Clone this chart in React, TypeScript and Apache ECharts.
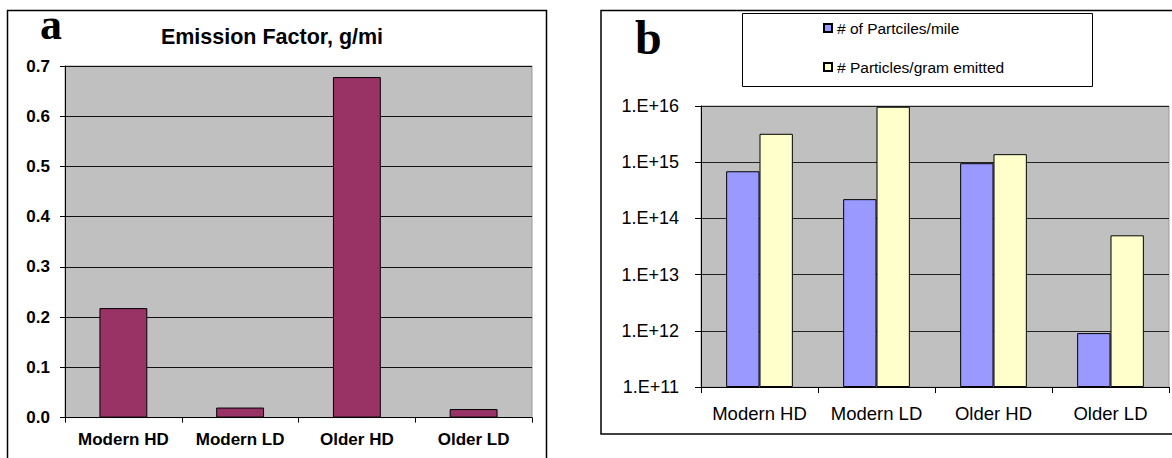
import React, { useEffect, useRef } from "react";
import * as echarts from "echarts";

const categories = ["Modern HD", "Modern LD", "Older HD", "Older LD"];
const emissionFactor = [0.218, 0.02, 0.678, 0.017];
const particlesPerMile = [6.9e14, 2.2e14, 9.6e14, 9.1e11];
const particlesPerGram = [3.2e15, 9.7e15, 1.39e15, 5.0e13];
const aTicks = [0, 0.1, 0.2, 0.3, 0.4, 0.5, 0.6, 0.7];
const seriesNames = ["# of Partciles/mile", "# Particles/gram emitted"];
const titleA = "Emission Factor, g/mi";

export default function App() {
  const ref = useRef<HTMLDivElement>(null);
  useEffect(() => {
    document.body.style.margin = "0";
    const chart = echarts.init(ref.current!, null, { renderer: "svg" });
    const sans = "Liberation Sans";
    chart.setOption({
      animation: false,
      backgroundColor: "#ffffff",
      legend: {
        data: seriesNames,
        orient: "vertical",
        left: 818,
        top: 15,
        icon: "rect",
        itemWidth: 8,
        itemHeight: 8,
        itemGap: 23,
        textStyle: { fontFamily: sans, fontSize: 15.5, color: "#000", padding: [0, 0, 0, 0] },
      },
      grid: [
        {
          left: 65, right: 640, top: 66, bottom: 40.4,
          show: true, backgroundColor: "#c0c0c0", borderColor: "#9a9a9a", borderWidth: 1,
        },
        {
          left: 701, right: 3, top: 106, bottom: 71,
          show: true, backgroundColor: "#c0c0c0", borderColor: "#9a9a9a", borderWidth: 1,
        },
      ],
      xAxis: [
        {
          type: "category", gridIndex: 0, data: categories,
          axisLine: { show: true, lineStyle: { color: "#000", width: 1 } },
          axisTick: { show: true, interval: 0, length: 5, lineStyle: { color: "#000", width: 1 } },
          axisLabel: { interval: 0, fontFamily: sans, fontWeight: "bold", fontSize: 17, color: "#000", margin: 13 },
        },
        {
          type: "category", gridIndex: 1, data: categories,
          axisLine: { show: true, lineStyle: { color: "#000", width: 1 } },
          axisTick: { show: true, interval: 0, length: 6, lineStyle: { color: "#000", width: 1 } },
          axisLabel: { interval: 0, fontFamily: sans, fontSize: 18.5, color: "#000", margin: 17 },
        },
      ],
      yAxis: [
        {
          type: "value", gridIndex: 0, min: aTicks[0], max: aTicks[aTicks.length - 1], interval: 0.1,
          axisLine: { show: true, lineStyle: { color: "#000", width: 1 } },
          axisTick: { show: true, length: 5, lineStyle: { color: "#000" } },
          splitLine: { show: true, lineStyle: { color: "#111", width: 1 } },
          axisLabel: {
            fontFamily: sans, fontWeight: "bold", fontSize: 17, color: "#000", margin: 15,
            formatter: (v: number) => v.toFixed(1),
          },
        },
        {
          type: "log", gridIndex: 1, logBase: 10, min: 1e11, max: 1e16, startValue: 1e11,
          axisLine: { show: true, lineStyle: { color: "#000", width: 1 } },
          axisTick: { show: true, length: 6, lineStyle: { color: "#000" } },
          splitLine: { show: true, lineStyle: { color: "#222", width: 1 } },
          minorTick: { show: false },
          axisLabel: {
            fontFamily: sans, fontSize: 18, color: "#000", margin: 22,
            formatter: (v: number) => "1.E+" + Math.round(Math.log10(v)),
          },
        },
      ],
      series: [
        {
          type: "bar", xAxisIndex: 0, yAxisIndex: 0, data: emissionFactor, barWidth: "41%",
          itemStyle: { color: "#993366", borderColor: "#000", borderWidth: 1 },
        },
        {
          name: seriesNames[0], type: "bar", xAxisIndex: 1, yAxisIndex: 1, data: particlesPerMile,
          barGap: "0%", barCategoryGap: "43%", clip: true,
          itemStyle: { color: "#9999ff", borderColor: "#000", borderWidth: 1 },
        },
        {
          name: seriesNames[1], type: "bar", xAxisIndex: 1, yAxisIndex: 1, data: particlesPerGram,
          barGap: "0%", barCategoryGap: "43%", clip: true,
          itemStyle: { color: "#ffffcc", borderColor: "#000", borderWidth: 1 },
        },
      ],
      graphic: [
        {
          type: "rect", z: -10, silent: true,
          shape: { x: 7.5, y: 10.5, width: 539, height: 470 },
          style: { fill: "none", stroke: "#000", lineWidth: 1.5 },
        },
        {
          type: "rect", z: -10, silent: true,
          shape: { x: 601, y: 10.5, width: 600, height: 423.5 },
          style: { fill: "none", stroke: "#000", lineWidth: 1.5 },
        },
        {
          type: "rect", z: -10, silent: true,
          shape: { x: 742.5, y: 13.5, width: 350, height: 73 },
          style: { fill: "#fff", stroke: "#000", lineWidth: 1 },
        },
        {
          type: "text", silent: true,
          style: {
            text: titleA, x: 272, y: 37, font: 'bold 21.5px "Liberation Sans"',
            fill: "#000", textAlign: "center", textVerticalAlign: "middle",
          },
        },
        {
          type: "text", silent: true,
          style: {
            text: "a", x: 40, y: 24, font: 'bold 44px "Liberation Serif"',
            fill: "#000", textAlign: "left", textVerticalAlign: "middle",
          },
        },
        {
          type: "text", silent: true,
          style: {
            text: "b", x: 635, y: 37, font: 'bold 48px "Liberation Serif"',
            fill: "#000", textAlign: "left", textVerticalAlign: "middle",
          },
        },
      ],
    });
    return () => chart.dispose();
  }, []);
  return <div ref={ref} style={{ width: 1172, height: 458 }} />;
}
